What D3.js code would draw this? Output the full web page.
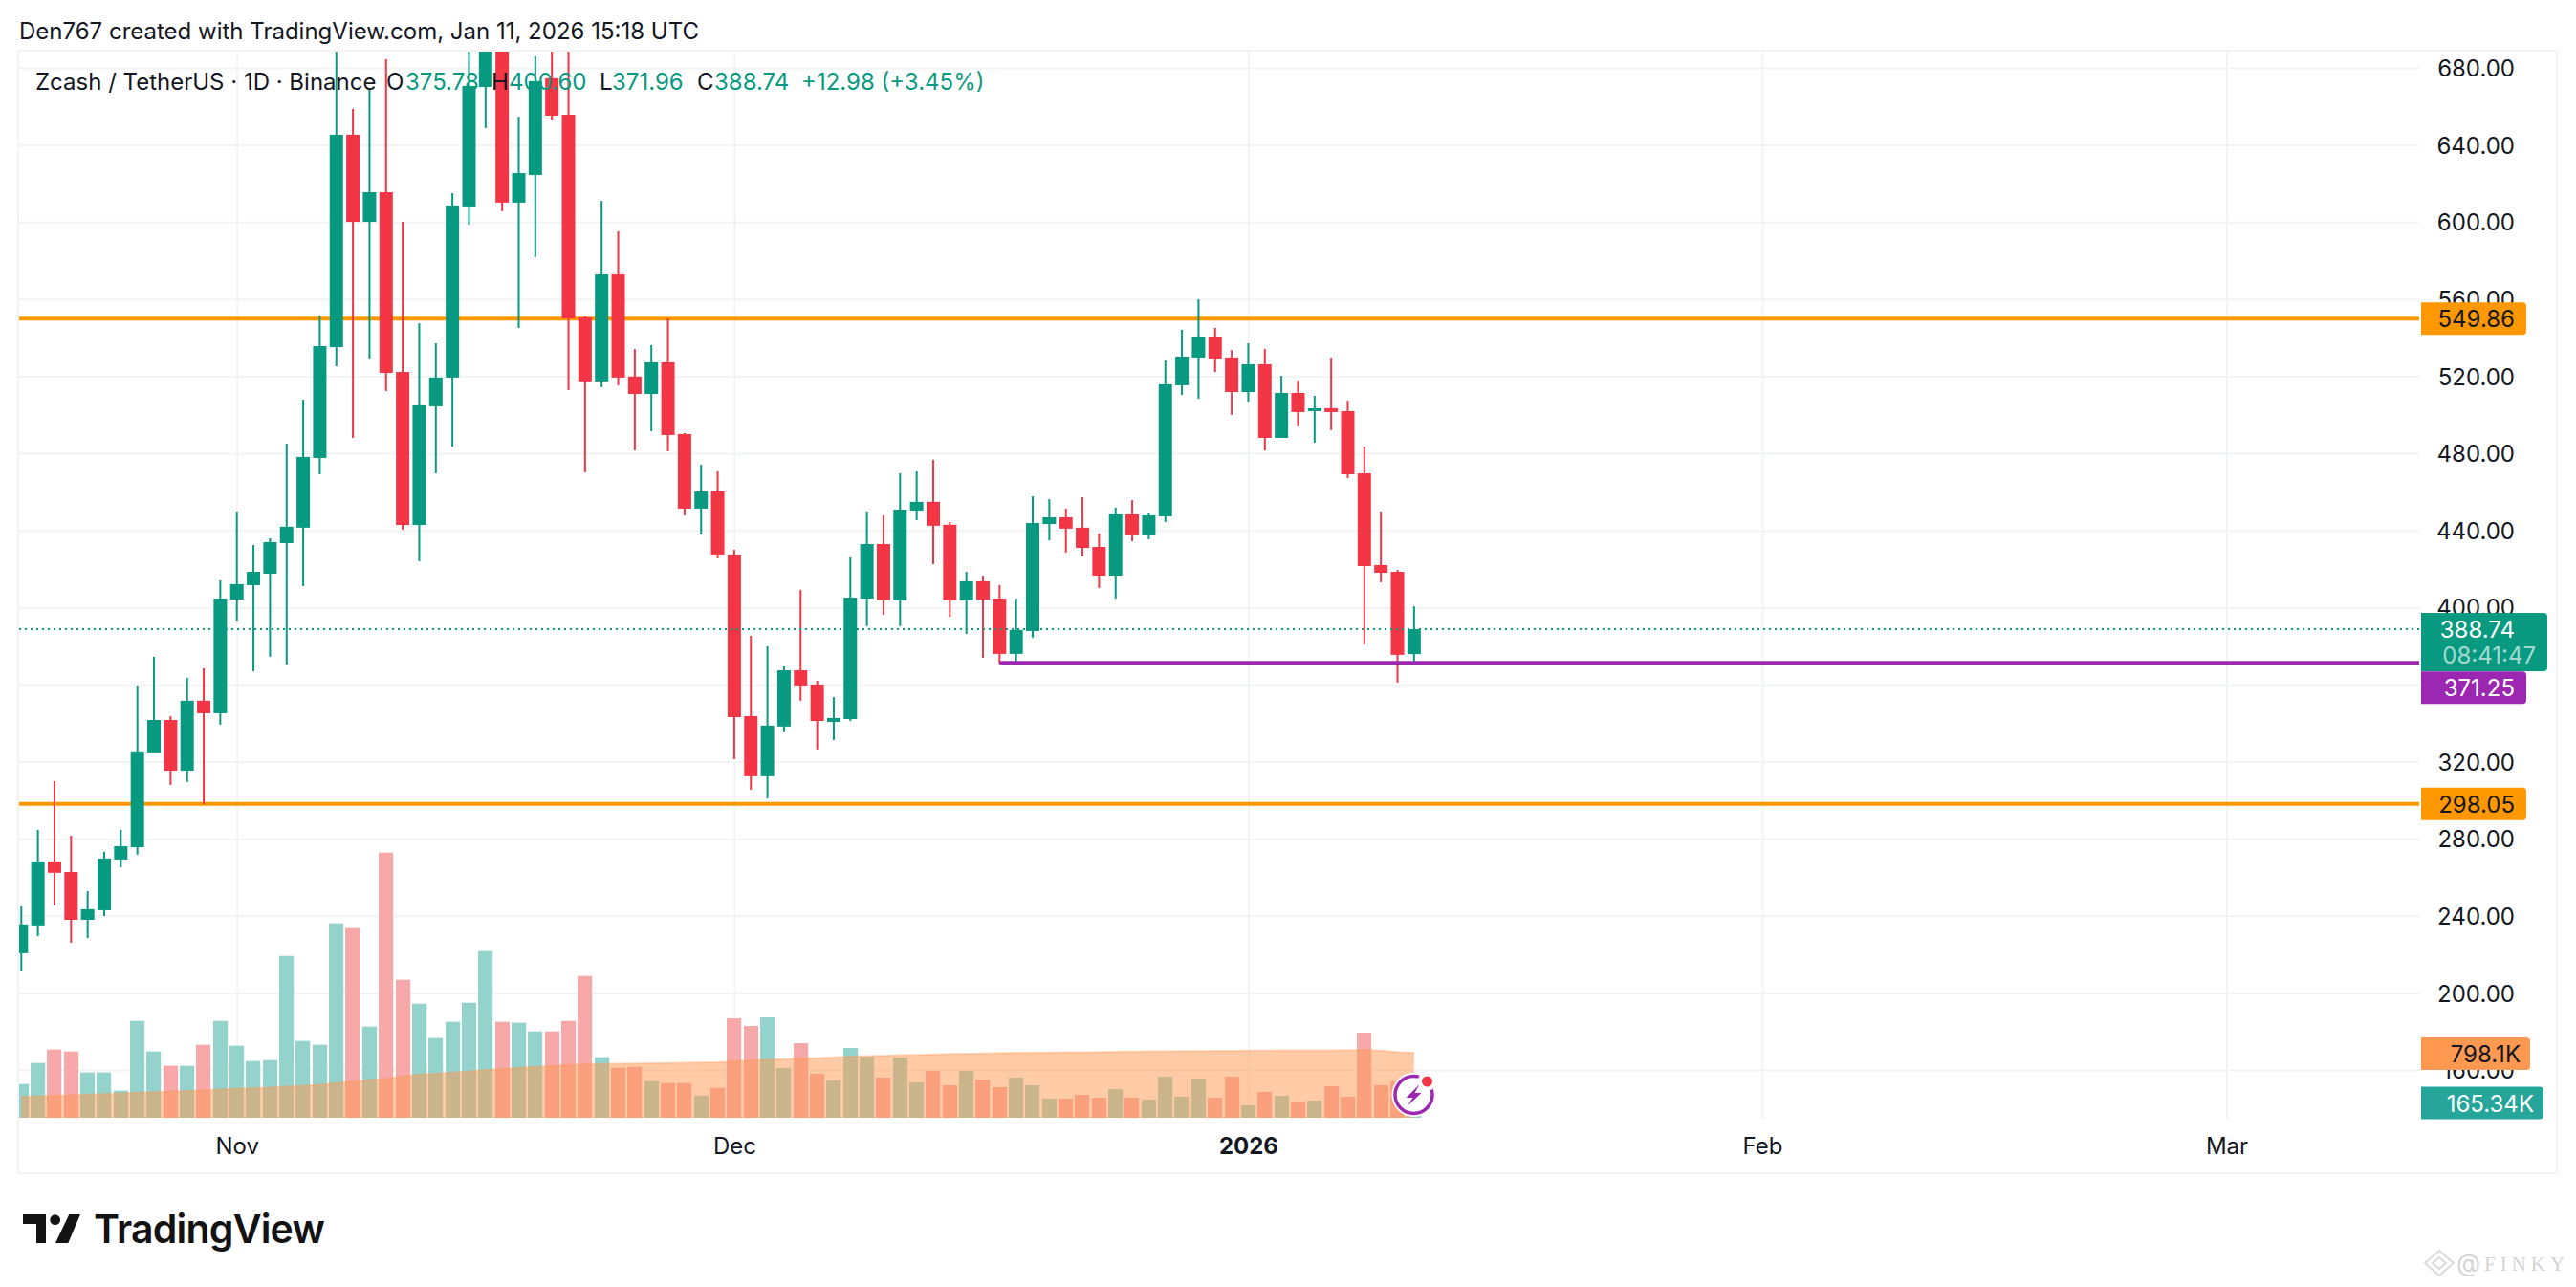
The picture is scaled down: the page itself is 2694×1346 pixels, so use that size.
<!DOCTYPE html>
<html>
<head>
<meta charset="utf-8">
<script src="https://cdn.jsdelivr.net/npm/d3@7/dist/d3.min.js"></script>
<style>
html,body{margin:0;padding:0;background:#fff;}
svg{display:block;}
text{font-family:Inter,"Noto Sans",sans-serif;}
</style>
</head>
<body>
<svg id="c" width="2694" height="1346"></svg>
<script>
const openP=[220.6,235.0,268.2,262.7,237.9,242.9,269.2,275.6,324.8,341.6,315.3,351.6,345.1,404.1,411.6,417.5,433.4,441.4,477.6,535.1,645.3,600.1,615.5,522.2,442.8,504.4,519.3,608.1,670.1,691.9,610.1,624.4,674.6,655.7,550.5,517.3,572.8,519.8,510.8,527.2,490.0,451.3,460.2,427.5,343.6,312.4,338.2,367.4,360.0,340.6,342.1,404.6,432.9,403.7,450.3,454.8,442.9,403.7,413.6,404.6,375.9,387.8,443.3,446.8,441.4,431.4,416.5,448.3,437.4,447.3,515.3,529.7,540.6,529.7,511.8,526.2,488.0,511.3,501.9,503.4,501.9,469.6,422.0,418.5,375.78];
const highP=[244.9,284.6,309.9,281.6,252.8,273.2,284.6,359.5,374.4,343.6,363.5,368.4,414.1,449.8,432.4,435.9,485.0,507.8,551.5,695.4,658.7,669.1,684.5,600.1,547.5,537.1,615.0,700.3,705.3,702.8,654.7,686.0,700.3,700.3,551.0,611.0,595.2,534.1,536.1,550.0,490.5,474.1,470.6,429.9,385.3,379.8,369.4,409.1,362.0,353.5,426.0,449.8,447.8,469.6,470.6,476.6,444.3,418.5,416.5,411.6,404.6,457.7,456.2,451.3,457.2,438.4,451.8,455.7,449.3,528.2,544.1,559.9,545.1,533.6,537.1,534.1,520.2,517.8,509.8,529.7,507.3,483.5,449.8,419.5,400.60];
const lowP=[211.1,229.5,245.4,226.0,228.5,239.9,265.2,271.7,324.8,307.9,309.4,298.0,339.2,393.2,366.9,374.4,370.4,411.1,469.1,525.2,488.0,529.2,512.3,440.4,424.0,469.6,483.5,598.6,648.7,605.6,545.1,581.8,653.2,512.8,470.1,514.3,515.3,481.5,491.5,481.1,447.8,437.9,425.5,321.3,305.4,300.9,335.2,351.6,326.3,331.2,341.1,390.3,396.2,390.3,445.3,422.5,395.2,386.3,373.9,370.9,371.9,384.3,434.9,428.5,426.5,410.1,404.6,434.4,435.4,444.3,510.3,508.3,522.2,499.9,506.9,481.5,488.0,494.0,485.5,492.0,467.2,380.8,413.1,361.0,371.96];
const closeP=[235.5,268.2,262.3,237.9,243.4,269.7,276.1,325.3,341.6,315.3,351.6,345.1,404.6,412.1,418.5,433.9,441.9,478.1,535.6,645.3,600.1,615.5,521.7,442.8,504.9,519.3,608.6,670.6,692.9,610.1,625.4,673.1,655.2,550.0,517.3,572.8,519.3,510.8,527.2,489.5,451.3,460.2,427.5,343.1,312.4,338.7,367.4,359.5,341.1,342.6,405.1,432.9,403.7,450.8,454.8,442.4,403.7,413.6,404.1,375.9,388.3,443.8,446.8,440.9,430.9,416.5,448.3,437.4,447.8,515.8,530.2,540.6,529.2,511.8,526.2,488.0,511.3,501.4,503.4,501.4,469.1,421.5,418.0,375.4,388.74];
const volumeK=[415,673,837,814,556,556,333,1189,814,638,638,896,1189,884,696,708,1987,943,896,2386,2328,1119,3255,1694,1400,978,1178,1412,2046,1178,1166,1060,1060,1189,1741,743,614,626,450,426,426,274,368,1221,1127,1232,610,915,540,458,857,751,493,739,434,575,399,575,469,376,493,399,235,235,282,246,352,246,223,505,258,481,246,505,153,317,270,200,211,387,258,1044,399,446,165.34];
const volumeMAK=[258,264,270,276,285,292,298,308,316,322,328,338,347,358,365,371,384,392,405,425,442,463,482,512,530,543,556,570,586,598,612,624,636,648,655,659,663,667,670,672,674,677,682,692,705,712,720,728,735,742,750,756,764,768,773,777,782,786,790,794,797,799,801,803,805,808,810,812,815,817,819,820,822,823,824,825,826,826,827,828,829,831,825,808,798.1];
const priceTicks=[160,200,240,280,320,360,400,440,480,520,560,600,640,680];
const timeTickIdx=[13,43,74,105,133];
const timeLabels=["Nov","Dec","2026","Feb","Mar"];
const resistance=549.86, support=298.05, pivot=371.25, pivotStart=59, lastPrice=388.74;

const GREEN="#089981",RED="#F23645",GRID="#f2f3f3",INK="#131722",ORANGE="#FF9800",PURPLE="#9C27B0";
const PL=20,PR=2530,PT=54,PB=1170,FR=2673,FB=1226;
const FS=24;

const svg=d3.select("#c");
const x=d3.scaleLinear().domain([0,133]).range([22.3,2328.5]);
const y=d3.scaleLinear().domain([160,680]).range([1119,71]);
const v=d3.scaleLinear().domain([0,798.1]).range([1169,1101]);

const defs=svg.append("defs");
defs.append("clipPath").attr("id","pane").append("rect").attr("x",PL).attr("y",PT).attr("width",PR-PL).attr("height",PB-PT);

svg.append("rect").attr("x",PL-1).attr("y",PT-1).attr("width",FR-PL+2).attr("height",FB-PT+2).attr("fill","#fff").attr("stroke","#f3f3f4").attr("stroke-width",2);

const pane=svg.append("g").attr("clip-path","url(#pane)");

// grid
const gy=pane.append("g").attr("transform",`translate(${PR},0)`).call(d3.axisLeft(y).tickValues(priceTicks).tickSize(PR-PL).tickFormat(""));
gy.select(".domain").remove();
gy.selectAll("line").attr("stroke",GRID).attr("stroke-width",2);
const gx=pane.append("g").attr("transform",`translate(0,${PB})`).call(d3.axisTop(x).tickValues(timeTickIdx).tickSize(PB-PT).tickFormat(""));
gx.select(".domain").remove();
gx.selectAll("line").attr("stroke",GRID).attr("stroke-width",2);

// volume
const idx=d3.range(openP.length);
const isUp=i=>closeP[i]>=openP[i];
pane.append("g").selectAll("rect").data(idx).join("rect")
 .attr("x",i=>Math.round(x(i)-7.6)).attr("width",15.2)
 .attr("y",i=>v(volumeK[i])).attr("height",i=>v(0)-v(volumeK[i]))
 .attr("fill",i=>isUp(i)?"#94d3cb":"#f7a9a9");
const area=d3.area().x(i=>x(i)).y0(v(0)).y1(i=>v(volumeMAK[i]));
const line=d3.line().x(i=>x(i)).y(i=>v(volumeMAK[i]));
pane.append("path").datum(idx).attr("d",area).attr("fill","rgba(255,152,80,0.5)");
pane.append("path").datum(idx).attr("d",line).attr("fill","none").attr("stroke","rgba(255,152,80,0.35)").attr("stroke-width",2);

// horizontal levels under candles
[resistance,support].forEach(p=>{
 pane.append("line").attr("x1",PL).attr("x2",PR).attr("y1",y(p)).attr("y2",y(p)).attr("stroke",ORANGE).attr("stroke-width",4);
});

// candles
const cg=pane.append("g");
cg.selectAll("rect.w").data(idx).join("rect").attr("class","w")
 .attr("x",i=>x(i)-1).attr("width",2)
 .attr("y",i=>y(highP[i])).attr("height",i=>y(lowP[i])-y(highP[i]))
 .attr("fill",i=>isUp(i)?GREEN:RED);
cg.selectAll("rect.b").data(idx).join("rect").attr("class","b")
 .attr("x",i=>x(i)-7).attr("width",14)
 .attr("y",i=>y(Math.max(openP[i],closeP[i]))).attr("height",i=>Math.max(2,Math.abs(y(openP[i])-y(closeP[i]))))
 .attr("fill",i=>isUp(i)?GREEN:RED);

// last price & pivot
pane.append("line").attr("x1",PL).attr("x2",PR).attr("y1",y(lastPrice)).attr("y2",y(lastPrice)).attr("stroke",GREEN).attr("stroke-width",2).attr("stroke-dasharray","2 4");
pane.append("line").attr("x1",x(pivotStart)).attr("x2",PR).attr("y1",y(pivot)).attr("y2",y(pivot)).attr("stroke",PURPLE).attr("stroke-width",4);

// header
svg.append("text").attr("x",20).attr("y",41).attr("font-size",FS).attr("fill",INK).text("Den767 created with TradingView.com, Jan 11, 2026 15:18 UTC");

// legend
const lg=svg.append("g").attr("font-size",FS);
const L=[["Zcash / TetherUS · 1D · Binance",37,INK],["O",404,INK],["375.78",424,GREEN],["H",514,INK],["400.60",532,GREEN],["L",627,INK],["371.96",640,GREEN],["C",729,INK],["388.74",747,GREEN],["+12.98 (+3.45%)",838,GREEN]];
L.forEach(d=>lg.append("text").attr("x",d[1]).attr("y",94).attr("fill",d[2]).text(d[0]));

// price axis labels
const ax=svg.append("g").attr("transform",`translate(2630,1)`).call(d3.axisLeft(y).tickValues(priceTicks).tickSize(0).tickPadding(0).tickFormat(d3.format(".2f")));
ax.select(".domain").remove();
ax.selectAll("text").attr("font-size",FS).attr("fill",INK).attr("font-family","Inter,'Noto Sans',sans-serif").attr("text-anchor","end");

// time axis labels
const tx=svg.append("g").attr("transform",`translate(0,1190)`).call(d3.axisBottom(x).tickValues(timeTickIdx).tickSize(0).tickPadding(0).tickFormat((d,i)=>timeLabels[i]));
tx.select(".domain").remove();
tx.selectAll("text").attr("font-size",FS).attr("fill",INK).attr("font-family","Inter,'Noto Sans',sans-serif").attr("font-weight",(d,i)=>timeLabels[i]==="2026"?700:400);

// price tags
function tag(yc,w,h,fill){
 const g=svg.append("g");
 const xx=2532;
 g.append("path").attr("d",`M${xx},${yc-h/2}H${xx+w-4}a4,4 0 0 1 4,4V${yc+h/2-4}a4,4 0 0 1 -4,4H${xx}Z`).attr("fill",fill);
 return g;
}
function tagText(g,yc,txt,col,op){
 g.append("text").attr("x",2630).attr("y",yc+9).attr("text-anchor","end").attr("font-size",FS).attr("fill",col).attr("fill-opacity",op||1).text(txt);
}
let t=tag(y(resistance),110,34,ORANGE); tagText(t,y(resistance),"549.86",INK);
t=tag(y(support),110,34,ORANGE); tagText(t,y(support),"298.05",INK);
t=tag(y(pivot)+26,110,34,PURPLE); tagText(t,y(pivot)+26,"371.25","#fff");
// last price double tag
t=svg.append("g");
t.append("path").attr("d","M2532,641H2660a4,4 0 0 1 4,4V698a4,4 0 0 1 -4,4H2532Z").attr("fill",GREEN);
tagText(t,658,lastPrice.toFixed(2),"#fff");
t.append("text").attr("x",2652).attr("y",694).attr("text-anchor","end").attr("font-size",FS).attr("fill","#fff").attr("fill-opacity",.65).text("08:41:47");
t=tag(1102,114,34,"#FF9850"); t.append("text").attr("x",2636).attr("y",1111).attr("text-anchor","end").attr("font-size",FS).attr("fill",INK).text("798.1K");
t=tag(1153.5,128,34,"#26A69A"); t.append("text").attr("x",2650).attr("y",1162.5).attr("text-anchor","end").attr("font-size",FS).attr("fill","#fff").text("165.34K");

// lightning icon
const ic=svg.append("g").attr("transform","translate(1478.5,1145)");
ic.append("circle").attr("r",23).attr("fill","#fff");
ic.append("circle").attr("r",19.5).attr("fill","none").attr("stroke",PURPLE).attr("stroke-width",3.5);
ic.append("circle").attr("cx",14).attr("cy",-14).attr("r",10).attr("fill","#fff");
ic.append("circle").attr("cx",14).attr("cy",-14).attr("r",5.5).attr("fill","#F23645");
ic.append("path").attr("d","M6,-11 L-8,3 L-1,3 L-7,12 L8,-2 L1,-2 Z").attr("fill",PURPLE);

// logo
const lo=svg.append("g").attr("fill","#131313");
lo.append("path").attr("d","M24,1270H48V1300H38V1280H24Z");
lo.append("circle").attr("cx",57.7).attr("cy",1275.7).attr("r",5.4);
lo.append("path").attr("d","M72.3,1270H84L71.3,1300H58Z");
lo.append("text").attr("x",98).attr("y",1300).attr("font-size",41).attr("font-weight",600).attr("letter-spacing",-0.8).text("TradingView");

// watermark
const wm=svg.append("g").attr("fill","#d4d4d4");
wm.append("path").attr("d","M2551,1308L2566,1321L2551,1334L2536,1321Z").attr("fill","none").attr("stroke","#dadada").attr("stroke-width",2);
wm.append("path").attr("d","M2551,1315L2558,1321L2551,1327L2544,1321Z").attr("fill","none").attr("stroke","#dadada").attr("stroke-width",2);
wm.append("text").attr("x",2569).attr("y",1330).attr("font-size",26).text("@");
wm.append("text").attr("x",2598).attr("y",1329).attr("font-size",21).attr("letter-spacing",5).attr("style","font-family:'Liberation Serif',serif").text("FINKY");
</script>
</body>
</html>
